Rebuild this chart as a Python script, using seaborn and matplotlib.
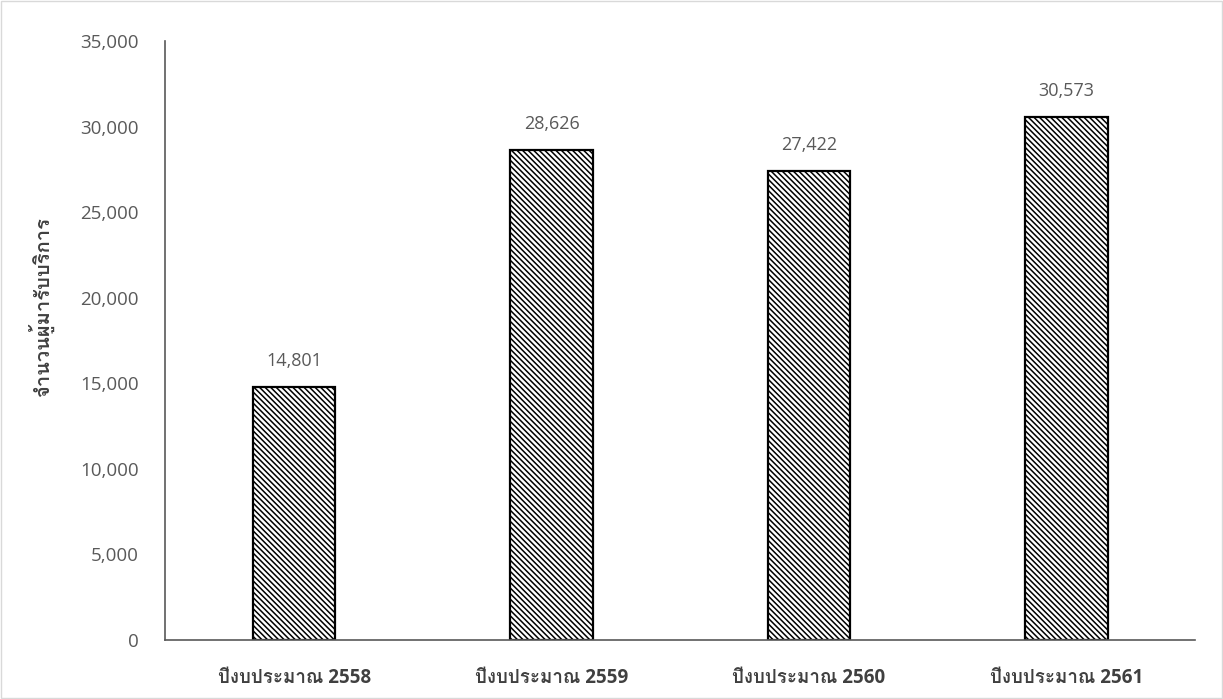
import matplotlib
matplotlib.use("Agg")
import matplotlib.pyplot as plt
import seaborn as sns
import pandas as pd
from matplotlib import font_manager

categories = ["ปีงบประมาณ 2558", "ปีงบประมาณ 2559", "ปีงบประมาณ 2560", "ปีงบประมาณ 2561"]
values = [14801, 28626, 27422, 30573]
y_label = "จำนวนผู้มารับบริการ"
y_ticks = [0, 5000, 10000, 15000, 20000, 25000, 30000, 35000]

# find a font containing Thai glyphs
thai_family = None
try:
    from fontTools.ttLib import TTFont
    for f in font_manager.fontManager.ttflist:
        try:
            tt = TTFont(f.fname, fontNumber=0, lazy=True)
            cmap = tt.getBestCmap()
            if cmap and 0x0E1B in cmap:
                thai_family = f.name
                break
        except Exception:
            continue
except Exception:
    pass

sns.set_theme(style="white")
thai = [thai_family] if thai_family else []
plt.rcParams["font.family"] = ["Open Sans"] + thai + ["DejaVu Sans"]
plt.rcParams["hatch.linewidth"] = 1.1
plt.rcParams["hatch.color"] = "black"

df = pd.DataFrame({"cat": categories, "val": values})

fig = plt.figure(figsize=(12.23, 6.99), dpi=100)
ax = fig.add_axes([0.1353, 0.0844, 0.8419, 0.8569])

sns.barplot(data=df, x="cat", y="val", ax=ax, color="white", width=0.32,
            edgecolor="black", linewidth=1.6, saturation=1)
for p in ax.patches:
    p.set_hatch("\\" * 6)

ax.set_ylim(0, 35000)
ax.set_yticks(y_ticks)
ax.set_yticklabels([f"{v:,}" for v in y_ticks], fontsize=13.5, color="#595959")
ax.set_xlabel("")
ax.set_ylabel(y_label, fontsize=14.5, color="#404040", fontweight="bold",
              family=thai + ["DejaVu Sans"])
ax.yaxis.set_label_coords(-0.108, 0.556)
ax.tick_params(axis="x", labelsize=13.5, colors="#404040", length=0, pad=20)
ax.tick_params(axis="y", length=0, pad=19)
for lbl in ax.get_xticklabels():
    lbl.set_fontweight("bold")

for i, v in enumerate(values):
    ax.text(i, v + 1000, f"{v:,}", ha="center", va="bottom", fontsize=13, color="#595959")

for s in ["top", "right"]:
    ax.spines[s].set_visible(False)
ax.spines["left"].set_color("#595959")
ax.spines["bottom"].set_color("#595959")
ax.spines["left"].set_linewidth(1.2)
ax.spines["bottom"].set_linewidth(1.2)
ax.set_xlim(-0.5, 3.5)

fig.patches.append(plt.Rectangle((0.001, 0.001), 0.998, 0.998, transform=fig.transFigure,
                                 fill=False, edgecolor="#d9d9d9", linewidth=1))
fig.savefig("out.png", dpi=100)
